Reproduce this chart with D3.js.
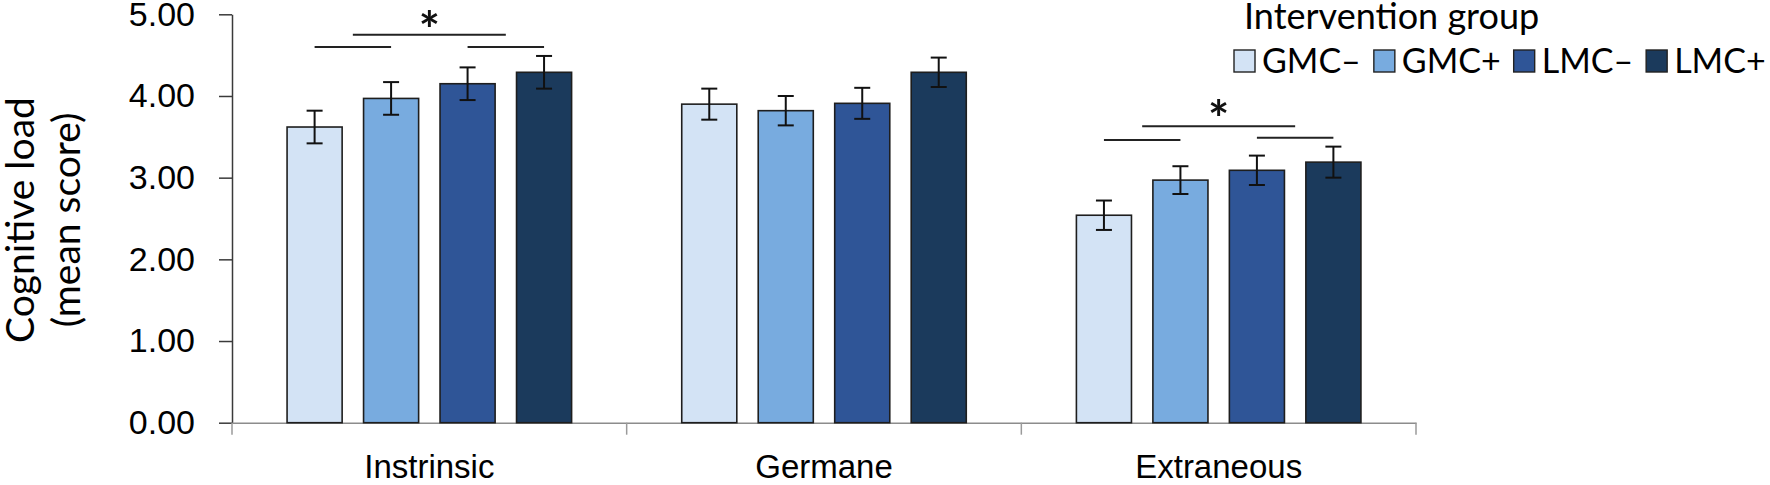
<!DOCTYPE html>
<html>
<head>
<meta charset="utf-8">
<script src="https://cdn.jsdelivr.net/npm/d3@7"></script>
<style>
  body { margin: 0; background: #fff; }
  svg { display: block; font-family: Lato, "Open Sans", sans-serif; }
</style>
</head>
<body>
<svg id="chart" width="1770" height="485"></svg>
<script>
// categories and groups
var categories = ['Instrinsic', 'Germane', 'Extraneous'];
var groups = ['GMC\u2013', 'GMC+', 'LMC\u2013', 'LMC+'];
var groupColors = ['#d3e3f5', '#78abdf', '#2f5597', '#1b3a5c'];

// mean scores per group (Instrinsic, Germane, Extraneous)
var gmcMinus = [3.62, 3.90, 2.54];
var gmcPlus  = [3.97, 3.82, 2.97];
var lmcMinus = [4.15, 3.91, 3.09];
var lmcPlus  = [4.29, 4.29, 3.19];

// error bar half widths
var gmcMinusErr = [0.20, 0.19, 0.18];
var gmcPlusErr  = [0.20, 0.18, 0.17];
var lmcMinusErr = [0.20, 0.19, 0.18];
var lmcPlusErr  = [0.20, 0.18, 0.19];

var yTicks = [0, 1, 2, 3, 4, 5];

// significance brackets: GMC-/GMC+ pair, LMC-/LMC+ pair, bridge between them
var sigCategories = ['Instrinsic', 'Extraneous'];
var sigLeftLevel   = [4.60, 3.46];
var sigRightLevel  = [4.60, 3.49];
var sigBridgeLevel = [4.75, 3.63];
var sigStarLevel   = [4.91, 3.82];

var means = [gmcMinus, gmcPlus, lmcMinus, lmcPlus];
var errs = [gmcMinusErr, gmcPlusErr, lmcMinusErr, lmcPlusErr];

var rows = [];
categories.forEach(function(c, ci) {
    groups.forEach(function(g, gi) {
        rows.push({cat: c, group: g, gi: gi, value: means[gi][ci], err: errs[gi][ci]});
    });
});

var svg = d3.select('#chart');

var y = d3.scaleLinear().domain([0, 5]).range([422.7, 14.3]);
var x0 = d3.scaleBand().domain(categories).range([232, 1416]);
var x1 = d3.scaleBand().domain(groups).range([0, x0.bandwidth()])
    .paddingInner(0.28).paddingOuter(0.72);
var color = d3.scaleOrdinal().domain(groups).range(groupColors);

var barX = function(d) { return x0(d.cat) + x1(d.group); };
var barMid = function(cat, group) { return x0(cat) + x1(group) + x1.bandwidth() / 2; };

// y axis
var yAxis = svg.append('g')
    .attr('transform', 'translate(' + x0.range()[0] + ',0)')
    .call(d3.axisLeft(y).tickValues(yTicks).tickFormat(d3.format('.2f'))
        .tickSize(13).tickSizeOuter(0).tickPadding(24));
yAxis.select('.domain').attr('stroke', '#3a3a3a').attr('stroke-width', 1.5);
yAxis.selectAll('.tick line').attr('stroke', '#3a3a3a').attr('stroke-width', 1.5);
yAxis.selectAll('.tick text').attr('font-size', 34).attr('fill', '#000');

// x axis
var xAxis = svg.append('g')
    .attr('transform', 'translate(0,' + y(0) + ')')
    .call(d3.axisBottom(x0).tickSize(0).tickPadding(32));
xAxis.select('.domain').attr('stroke', '#8c8c8c').attr('stroke-width', 1.5);
xAxis.selectAll('.tick text').attr('font-size', 33).attr('fill', '#000');

var bounds = categories.map(function(c) { return x0(c); }).concat([x0.range()[1]]);
xAxis.selectAll('.bound')
    .data(bounds)
    .enter().append('line')
    .attr('class', 'bound')
    .attr('x1', function(d) { return d; })
    .attr('x2', function(d) { return d; })
    .attr('y1', 0)
    .attr('y2', 12)
    .attr('stroke', '#9a9a9a')
    .attr('stroke-width', 1.5);

// bars
svg.append('g').selectAll('rect')
    .data(rows)
    .enter().append('rect')
    .attr('x', barX)
    .attr('y', function(d) { return y(d.value); })
    .attr('width', x1.bandwidth())
    .attr('height', function(d) { return y(0) - y(d.value); })
    .attr('fill', function(d) { return color(d.group); })
    .attr('stroke', '#1e1e1e')
    .attr('stroke-width', 1.6);

// error bars
var eb = svg.append('g').attr('stroke', '#111').attr('stroke-width', 2);
rows.forEach(function(d) {
    var cx = barX(d) + x1.bandwidth() / 2;
    var top = y(d.value + d.err), bot = y(d.value - d.err);
    eb.append('line').attr('x1', cx).attr('x2', cx).attr('y1', top).attr('y2', bot);
    eb.append('line').attr('x1', cx - 8).attr('x2', cx + 8).attr('y1', top).attr('y2', top);
    eb.append('line').attr('x1', cx - 8).attr('x2', cx + 8).attr('y1', bot).attr('y2', bot);
});

// significance markers
var sig = svg.append('g').attr('stroke', '#222').attr('stroke-width', 2);
sigCategories.forEach(function(c, i) {
    var a0 = barMid(c, groups[0]), a1 = barMid(c, groups[1]);
    var b0 = barMid(c, groups[2]), b1 = barMid(c, groups[3]);
    var m0 = (a0 + a1) / 2, m1 = (b0 + b1) / 2;
    sig.append('line').attr('x1', a0).attr('x2', a1)
        .attr('y1', y(sigLeftLevel[i])).attr('y2', y(sigLeftLevel[i]));
    sig.append('line').attr('x1', b0).attr('x2', b1)
        .attr('y1', y(sigRightLevel[i])).attr('y2', y(sigRightLevel[i]));
    sig.append('line').attr('x1', m0).attr('x2', m1)
        .attr('y1', y(sigBridgeLevel[i])).attr('y2', y(sigBridgeLevel[i]));
    svg.append('text')
        .attr('x', (m0 + m1) / 2)
        .attr('y', y(sigStarLevel[i]) + 26)
        .attr('text-anchor', 'middle')
        .attr('font-size', 50)
        .attr('font-weight', 'bold')
        .attr('fill', '#111')
        .text('*');
});

// y axis title
var yt = svg.append('text')
    .attr('transform', 'translate(34,220) rotate(-90)')
    .attr('text-anchor', 'middle')
    .attr('font-size', 39)
    .attr('fill', '#000');
yt.append('tspan').attr('x', 0).attr('y', 0).text('Cognitive load');
yt.append('tspan').attr('x', 0).attr('y', 46).text('(mean score)');

// legend
var legend = svg.append('g').attr('transform', 'translate(1234,0)');
legend.append('text')
    .attr('x', 10).attr('y', 29)
    .attr('font-size', 36)
    .attr('fill', '#000')
    .text('Intervention group');

var lx = 0;
groups.forEach(function(g) {
    legend.append('rect')
        .attr('x', lx).attr('y', 50)
        .attr('width', 21).attr('height', 22)
        .attr('fill', color(g))
        .attr('stroke', '#222')
        .attr('stroke-width', 1.4);
    var t = legend.append('text')
        .attr('x', lx + 28).attr('y', 73)
        .attr('font-size', 34)
        .attr('fill', '#000')
        .text(g);
    lx += 28 + t.node().getComputedTextLength() + 13;
});
</script>
</body>
</html>
